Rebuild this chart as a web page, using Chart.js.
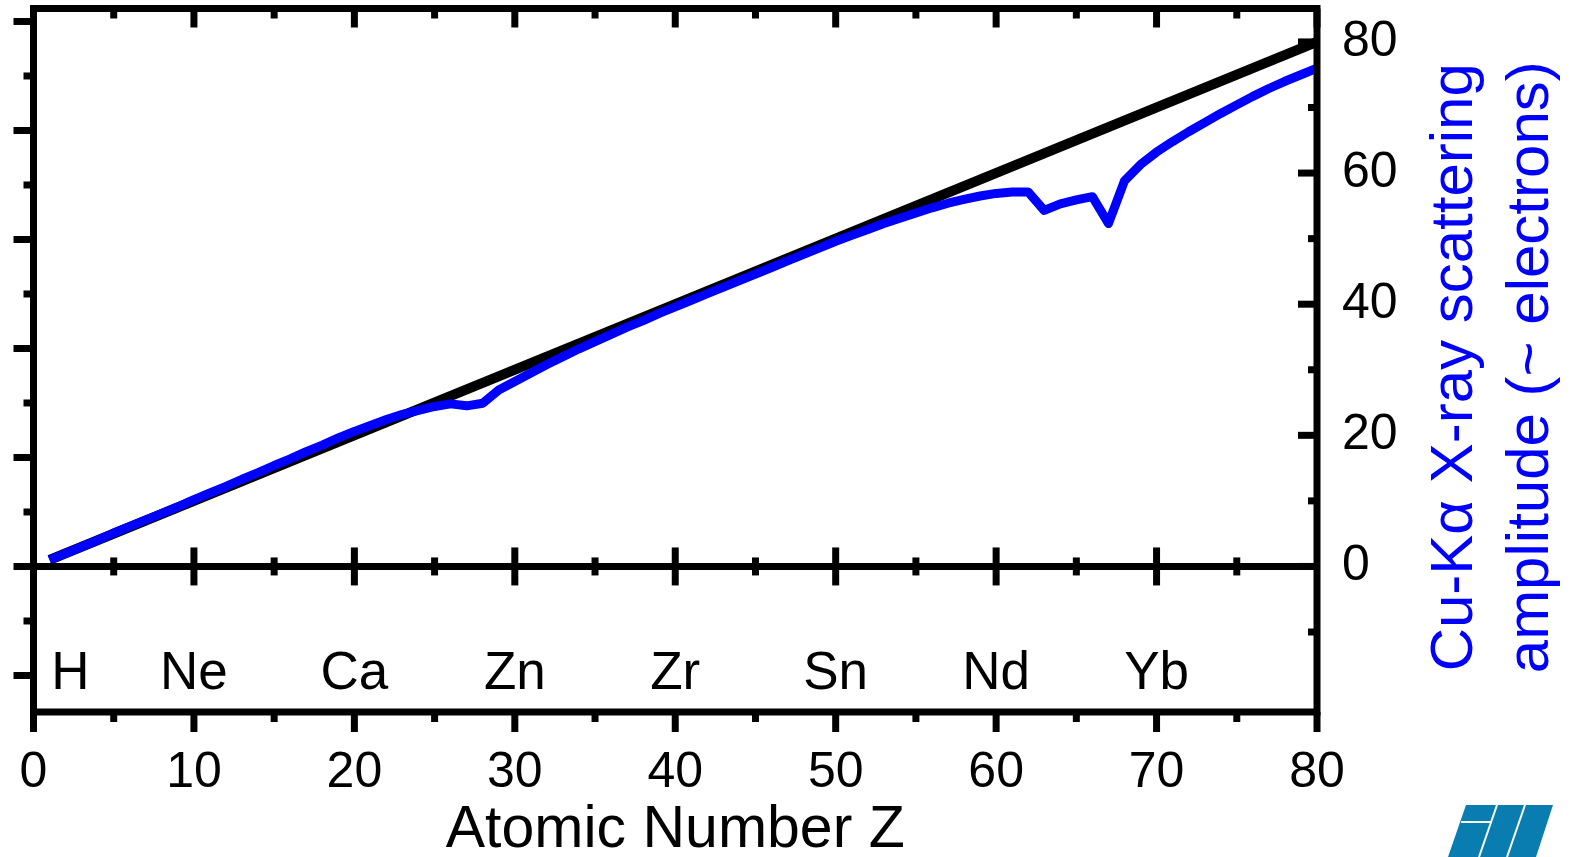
<!DOCTYPE html>
<html>
<head>
<meta charset="utf-8">
<script src="https://cdn.jsdelivr.net/npm/chart.js@4.4.1/dist/chart.umd.min.js"></script>
<style>
  html, body { margin: 0; padding: 0; background: #fff; }
  #wrap { width: 1575px; height: 857px; }
</style>
</head>
<body>
<div id="wrap"><canvas id="chart" width="1575" height="857"></canvas></div>
<script>
// Numar atomic Z si amplitudinea de imprastiere Cu-Ka (curba albastra)
const atomicZ = [];
for (let z = 1; z <= 80; z++) atomicZ.push(z);
const scatterAmp = [
  1.0, 2.0, 3.0, 4.0, 5.1, 6.1, 7.1, 8.1, 9.1, 10.2,
  11.2, 12.2, 13.3, 14.3, 15.4, 16.4, 17.5, 18.5, 19.6, 20.6,
  21.5, 22.4, 23.2, 23.8, 24.4, 24.8, 24.5, 24.9, 26.9, 28.2,
  29.5, 30.8, 32.0, 33.2, 34.3, 35.4, 36.5, 37.5, 38.6, 39.6,
  40.6, 41.6, 42.6, 43.6, 44.6, 45.6, 46.6, 47.6, 48.6, 49.6,
  50.5, 51.4, 52.3, 53.1, 53.9, 54.7, 55.4, 56.0, 56.5, 56.9,
  57.1, 57.1, 54.3, 55.3, 55.9, 56.4, 52.3, 58.8, 61.3, 63.2,
  64.8, 66.3, 67.7, 69.1, 70.4, 71.7, 72.9, 74.0, 75.0, 76.0
];
// linia de referinta f = Z (neagra)
const refZ = [1, 80];
const refAmp = [1, 80];

// etichete de elemente sub zero
const elementNames = ['H', 'Ne', 'Ca', 'Zn', 'Zr', 'Sn', 'Nd', 'Yb'];
const elementZ = [2.3, 10, 20, 30, 40, 50, 60, 70];
const elementLabelY = -16.4;

// tick-uri
const xMajorTicks = [0, 10, 20, 30, 40, 50, 60, 70, 80];
const xMinorTicks = [5, 15, 25, 35, 45, 55, 65, 75];
const yRightTicks = [0, 20, 40, 60, 80];
const yRightMinor = [-10, 10, 30, 50, 70];
const yLeftMajor = [-10, 0, 10, 20, 30, 40, 50];
const yLeftMinor = [-5, 5, 15, 25, 35, 45];

const rightTitle = ['Cu-K\u03b1 X-ray scattering', 'amplitude (~ electrons)'];
const xTitle = 'Atomic Number Z';

const FONT = "'Liberation Sans', Arial, sans-serif";

function seg(ctx, x1, y1, x2, y2) {
  ctx.beginPath();
  ctx.moveTo(x1, y1);
  ctx.lineTo(x2, y2);
  ctx.stroke();
}

// fara padding suplimentar pentru etichete la capete
function noPad(s) {
  s.paddingTop = 0; s.paddingBottom = 0; s.paddingLeft = 0; s.paddingRight = 0;
}

// Plugin: cadru, tick-uri interioare/exterioare, linia zero, etichete, titlu dreapta, logo
const framePlugin = {
  id: 'frame',
  afterDatasetsDraw(chart) {
    const ctx = chart.ctx;
    const a = chart.chartArea;
    const x = chart.scales.x, y = chart.scales.y, yL = chart.scales.yL;
    const y0 = y.getPixelForValue(0);
    ctx.save();
    ctx.strokeStyle = '#000';
    ctx.lineCap = 'butt';
    ctx.lineWidth = 7;

    // linia zero
    seg(ctx, a.left, y0, a.right, y0);
    xMajorTicks.slice(1, -1).forEach(v => { const px = x.getPixelForValue(v); seg(ctx, px, y0 - 19, px, y0 + 19); });
    xMinorTicks.forEach(v => { const px = x.getPixelForValue(v); seg(ctx, px, y0 - 9, px, y0 + 9); });

    // sus (spre interior) si jos (spre exterior)
    xMajorTicks.forEach(v => {
      const px = x.getPixelForValue(v);
      seg(ctx, px, a.top, px, a.top + 19);
      seg(ctx, px, a.bottom, px, a.bottom + 20);
    });
    xMinorTicks.forEach(v => {
      const px = x.getPixelForValue(v);
      seg(ctx, px, a.top, px, a.top + 10);
      seg(ctx, px, a.bottom, px, a.bottom + 10);
    });

    // stanga (spre exterior)
    yLeftMajor.forEach(v => { const py = yL.getPixelForValue(v); seg(ctx, a.left - 20, py, a.left, py); });
    yLeftMinor.forEach(v => { const py = yL.getPixelForValue(v); seg(ctx, a.left - 10, py, a.left, py); });

    // dreapta (spre interior)
    yRightTicks.forEach(v => { const py = y.getPixelForValue(v); seg(ctx, a.right - 19, py, a.right, py); });
    yRightMinor.forEach(v => { const py = y.getPixelForValue(v); seg(ctx, a.right - 9, py, a.right, py); });

    // cadru
    ctx.lineJoin = 'miter';
    ctx.strokeRect(a.left, a.top, a.right - a.left, a.bottom - a.top);

    // etichete de elemente
    ctx.fillStyle = '#000';
    ctx.font = '53px ' + FONT;
    ctx.textAlign = 'center';
    ctx.textBaseline = 'middle';
    const ly = y.getPixelForValue(elementLabelY);
    elementNames.forEach((n, i) => ctx.fillText(n, x.getPixelForValue(elementZ[i]), ly));

    // titlul axei din dreapta, rotit
    ctx.fillStyle = '#0000ff';
    ctx.font = '60px ' + FONT;
    ctx.textBaseline = 'alphabetic';
    const cy = (a.top + a.bottom) / 2 + 7;
    [1472, 1548].forEach((bx, i) => {
      ctx.save();
      ctx.translate(bx, cy);
      ctx.rotate(-Math.PI / 2);
      ctx.fillText(rightTitle[i], 0, 0);
      ctx.restore();
    });

    // logo
    ctx.fillStyle = '#0a7db0';
    ctx.beginPath();
    ctx.moveTo(1466, 805); ctx.lineTo(1553, 805); ctx.lineTo(1536, 857); ctx.lineTo(1448, 857);
    ctx.closePath();
    ctx.fill();
    ctx.strokeStyle = '#fff';
    ctx.lineWidth = 2;
    seg(ctx, 1497, 805, 1479, 857);
    seg(ctx, 1525, 805, 1507, 857);
    seg(ctx, 1461, 822, 1491, 822);
    ctx.restore();
  }
};

new Chart(document.getElementById('chart'), {
  type: 'line',
  data: {
    datasets: [
      {
        label: 'Cu-K\u03b1',
        data: atomicZ.map((z, i) => ({ x: z, y: scatterAmp[i] })),
        borderColor: '#0000ff',
        borderWidth: 9,
        borderJoinStyle: 'round',
        pointRadius: 0,
        tension: 0,
        yAxisID: 'y'
      },
      {
        label: 'Z',
        data: refZ.map((z, i) => ({ x: z, y: refAmp[i] })),
        borderColor: '#000',
        borderWidth: 10,
        pointRadius: 0,
        tension: 0,
        yAxisID: 'y'
      }
    ]
  },
  options: {
    responsive: false,
    devicePixelRatio: 1,
    animation: false,
    layout: { padding: { top: 8.5 } },
    plugins: { legend: { display: false }, tooltip: { enabled: false } },
    scales: {
      x: {
        type: 'linear',
        position: 'bottom',
        min: 0, max: 80,
        afterBuildTicks: s => { s.ticks = xMajorTicks.map(v => ({ value: v })); },
        afterFit: s => { s.height = 145; noPad(s); },
        grid: { display: false, drawTicks: false },
        border: { display: false },
        ticks: { color: '#000', font: { family: FONT, size: 50 }, padding: 31, maxRotation: 0 },
        title: { display: true, text: xTitle, color: '#000', font: { family: FONT, size: 59, lineHeight: 0.9 }, padding: 0 }
      },
      y: {
        type: 'linear',
        position: 'right',
        min: -22.2, max: 85.1,
        afterBuildTicks: s => { s.ticks = yRightTicks.map(v => ({ value: v })); },
        afterFit: s => { s.width = 258; noPad(s); },
        grid: { display: false, drawTicks: false },
        border: { display: false },
        ticks: { color: '#000', font: { family: FONT, size: 50 }, padding: 25 }
      },
      yL: {
        type: 'linear',
        position: 'left',
        min: -13.35, max: 51.19,
        afterBuildTicks: s => { s.ticks = yLeftMajor.map(v => ({ value: v })); },
        afterFit: s => { s.width = 33.5; noPad(s); },
        grid: { display: false, drawTicks: false },
        border: { display: false },
        ticks: { display: false }
      }
    }
  },
  plugins: [framePlugin]
});
</script>
</body>
</html>
